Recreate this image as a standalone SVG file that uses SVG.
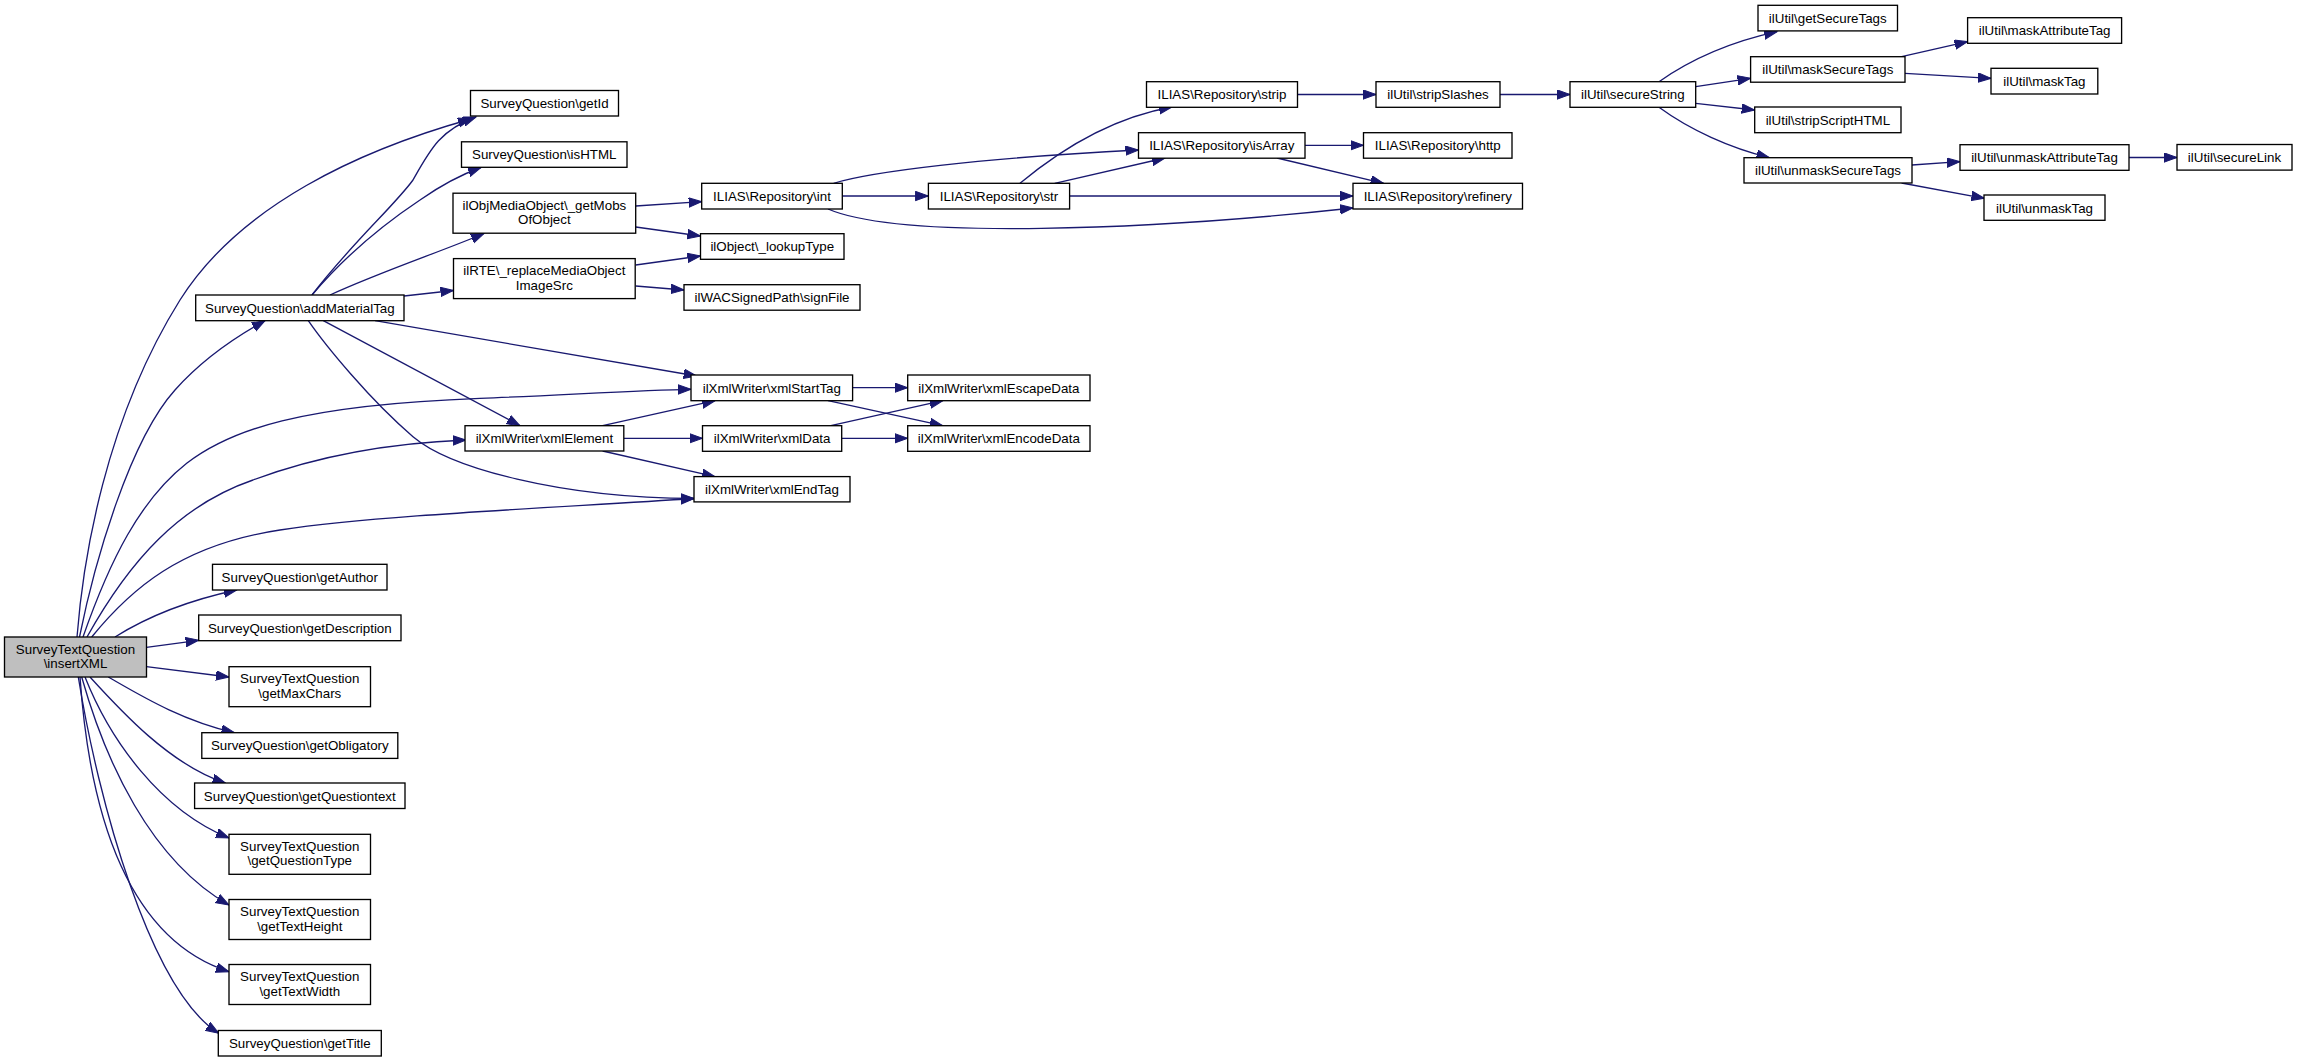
<svg xmlns="http://www.w3.org/2000/svg" width="2297" height="1063" viewBox="0 0 2297 1063">
<style>
.n rect{fill:#fff;stroke:#000;stroke-width:1.33}
.n.root rect{fill:#bfbfbf}
.n text{font-family:"Liberation Sans",Arial,Helvetica,sans-serif;font-size:13.33px;text-anchor:middle;fill:#000}
.e path{fill:none;stroke:#191970;stroke-width:1.33;marker-end:url(#a)}
</style>
<defs>
<marker id="a" markerUnits="userSpaceOnUse" markerWidth="15" markerHeight="12" refX="13" refY="5" orient="auto">
<path d="M0,0.3 L13,5 L0,9.7 Z" fill="#191970" stroke="#191970" stroke-width="1"/>
</marker>
</defs>
<rect width="2297" height="1063" fill="#fff"/>
<g id="connectors" class="e">
<path d="M77,637 C83,560 105,420 180,300 C240,205 360,150 471,119"/>
<path d="M79.5,637 C95,560 130,440 175,390 C200,362 230,340 265,320.7"/>
<path d="M83,637 C110,560 140,500 186.7,463.3 C230,430 300,405 480,398.3 C560,395.3 640,390 691,389.3"/>
<path d="M87,637 C130,560 180,505 253,480 C320,455 390,443 466,440"/>
<path d="M91.7,637 C130,590 180,545 280,530 C380,515 550,508 694,498.5"/>
<path d="M115,637 C150,615 190,600 236.7,590"/>
<path d="M146.4,647.3 L198.7,640.3"/>
<path d="M146.4,666.7 L229,677"/>
<path d="M108.3,677 C140,695 180,720 234.4,732.7"/>
<path d="M90,677 C120,710 170,765 225.4,783"/>
<path d="M85,677 C110,740 160,810 229,838"/>
<path d="M81.7,677 C105,760 150,860 229,905"/>
<path d="M80,677 C90,820 130,940 229,971.7"/>
<path d="M78.3,677 C98,800 150,990 218.7,1033.3"/>
<path d="M312,295 C350,245 395,205 413,180 C430,150 440,130 476,117"/>
<path d="M312,295 C350,250 390,220 420,200 C440,186 460,175 481,167.5"/>
<path d="M330,295 C380,272 440,252 484,233.5"/>
<path d="M404,296 L453.5,290.5"/>
<path d="M375,320.7 L696.7,376"/>
<path d="M323.3,320.7 L520,425.7"/>
<path d="M308.3,320.7 C325,345 370,400 413,436.7 C450,468 560,498 694,498.5"/>
<path d="M635.7,206 L701.7,201.7"/>
<path d="M635.7,227 L700.5,236"/>
<path d="M635.7,265 L700.5,256"/>
<path d="M635.7,286 L684,290"/>
<path d="M602.6,425.7 L715,400.7"/>
<path d="M624,438.3 L702.5,438.3"/>
<path d="M602.6,451 L715,476.7"/>
<path d="M852.6,387.7 L907.7,387.7"/>
<path d="M828,400.7 L942.7,425.7"/>
<path d="M830.8,425.7 L942.7,400.7"/>
<path d="M841.7,438.3 L907.7,438.3"/>
<path d="M842.3,196 L928.4,196"/>
<path d="M833.7,183.3 C870,172 980,158 1138.5,150"/>
<path d="M828,209 C900,240 1150,230 1353,208"/>
<path d="M1020,183.3 C1060,150 1110,118 1172,107"/>
<path d="M1054.7,183.3 L1165,158"/>
<path d="M1069.6,196 L1353,196"/>
<path d="M1305,145.3 L1363.5,145.3"/>
<path d="M1277,158 L1383.6,183.3"/>
<path d="M1297.5,94.5 L1376,94.5"/>
<path d="M1500,94.5 L1570,94.5"/>
<path d="M1659,81.7 C1690,60 1730,42 1777,31.7"/>
<path d="M1695.7,86.7 L1750.6,78.3"/>
<path d="M1695.7,103.3 L1754.7,110"/>
<path d="M1659,107.3 C1690,130 1730,148 1769.4,157.7"/>
<path d="M1901.6,56.7 L1967.6,41.7"/>
<path d="M1905,73.3 L1991,78.3"/>
<path d="M1912,165 L1960,161.7"/>
<path d="M1901.6,183 L1984.4,198.3"/>
<path d="M2129,157.5 L2177,157.5"/>
</g>
<g id="insertXML" class="n root"><rect x="4.5" y="637" width="142" height="40"/><text x="75.5" y="653.5">SurveyTextQuestion</text><text x="75.5" y="668">\insertXML</text></g>
<g id="getId" class="n"><rect x="470.5" y="90.5" width="148" height="25.5"/><text x="544.5" y="108">SurveyQuestion\getId</text></g>
<g id="isHTML" class="n"><rect x="461.5" y="141.8" width="165.5" height="25.5"/><text x="544.25" y="159.3">SurveyQuestion\isHTML</text></g>
<g id="getMobsOfObject" class="n"><rect x="453" y="193.2" width="182.7" height="40"/><text x="544.35" y="209.7">ilObjMediaObject\_getMobs</text><text x="544.35" y="224.2">OfObject</text></g>
<g id="replaceMediaObjectImageSrc" class="n"><rect x="453.5" y="258.6" width="181.7" height="40"/><text x="544.35" y="275.1">ilRTE\_replaceMediaObject</text><text x="544.35" y="289.6">ImageSrc</text></g>
<g id="addMaterialTag" class="n"><rect x="195.7" y="295" width="208.3" height="25.7"/><text x="299.85" y="312.5">SurveyQuestion\addMaterialTag</text></g>
<g id="xmlStartTag" class="n"><rect x="691" y="375" width="161.6" height="25.7"/><text x="771.8" y="392.5">ilXmlWriter\xmlStartTag</text></g>
<g id="xmlElement" class="n"><rect x="465" y="425.7" width="158.8" height="25.3"/><text x="544.4" y="443.2">ilXmlWriter\xmlElement</text></g>
<g id="xmlEndTag" class="n"><rect x="694" y="476.6" width="156" height="25.3"/><text x="772" y="494">ilXmlWriter\xmlEndTag</text></g>
<g id="getAuthor" class="n"><rect x="212.5" y="564.3" width="174.5" height="25.7"/><text x="299.75" y="581.8">SurveyQuestion\getAuthor</text></g>
<g id="getDescription" class="n"><rect x="198.7" y="615" width="202.3" height="25.7"/><text x="299.85" y="632.5">SurveyQuestion\getDescription</text></g>
<g id="getMaxChars" class="n"><rect x="229" y="666.7" width="141.5" height="40"/><text x="299.75" y="683.2">SurveyTextQuestion</text><text x="299.75" y="697.7">\getMaxChars</text></g>
<g id="getObligatory" class="n"><rect x="201.8" y="732.7" width="196" height="25.7"/><text x="299.8" y="750.2">SurveyQuestion\getObligatory</text></g>
<g id="getQuestiontext" class="n"><rect x="194.6" y="783" width="210.4" height="25.5"/><text x="299.8" y="800.5">SurveyQuestion\getQuestiontext</text></g>
<g id="getQuestionType" class="n"><rect x="229" y="834.3" width="141.5" height="40"/><text x="299.75" y="850.8">SurveyTextQuestion</text><text x="299.75" y="865.3">\getQuestionType</text></g>
<g id="getTextHeight" class="n"><rect x="229" y="899.5" width="141.5" height="40"/><text x="299.75" y="916">SurveyTextQuestion</text><text x="299.75" y="930.5">\getTextHeight</text></g>
<g id="getTextWidth" class="n"><rect x="229" y="964.5" width="141.5" height="40"/><text x="299.75" y="981">SurveyTextQuestion</text><text x="299.75" y="995.5">\getTextWidth</text></g>
<g id="getTitle" class="n"><rect x="218.3" y="1030.5" width="163" height="25.5"/><text x="299.8" y="1048">SurveyQuestion\getTitle</text></g>
<g id="int" class="n"><rect x="701.7" y="183.3" width="140.6" height="25.7"/><text x="772" y="200.8">ILIAS\Repository\int</text></g>
<g id="lookupType" class="n"><rect x="700.5" y="233.7" width="143.5" height="25.6"/><text x="772.25" y="251.2">ilObject\_lookupType</text></g>
<g id="signFile" class="n"><rect x="684" y="284.7" width="176" height="25.5"/><text x="772" y="302.2">ilWACSignedPath\signFile</text></g>
<g id="xmlEscapeData" class="n"><rect x="907.7" y="375" width="182.3" height="25.7"/><text x="998.85" y="392.5">ilXmlWriter\xmlEscapeData</text></g>
<g id="xmlData" class="n"><rect x="702.5" y="425.7" width="139.2" height="25.6"/><text x="772.1" y="443.2">ilXmlWriter\xmlData</text></g>
<g id="xmlEncodeData" class="n"><rect x="907.7" y="425.7" width="182.3" height="25.6"/><text x="998.85" y="443.2">ilXmlWriter\xmlEncodeData</text></g>
<g id="str" class="n"><rect x="928.4" y="183.3" width="141.2" height="25.7"/><text x="999" y="200.8">ILIAS\Repository\str</text></g>
<g id="strip" class="n"><rect x="1146.5" y="81.7" width="151" height="25.6"/><text x="1222" y="99.2">ILIAS\Repository\strip</text></g>
<g id="isArray" class="n"><rect x="1138.5" y="132.7" width="166.5" height="25.5"/><text x="1221.75" y="150.2">ILIAS\Repository\isArray</text></g>
<g id="http" class="n"><rect x="1363.5" y="132.7" width="148.5" height="25.5"/><text x="1437.75" y="150.2">ILIAS\Repository\http</text></g>
<g id="refinery" class="n"><rect x="1353" y="183.3" width="169.5" height="25.7"/><text x="1437.75" y="200.8">ILIAS\Repository\refinery</text></g>
<g id="stripSlashes" class="n"><rect x="1376" y="81.7" width="124" height="25.6"/><text x="1438" y="99.2">ilUtil\stripSlashes</text></g>
<g id="secureString" class="n"><rect x="1570" y="81.7" width="125.7" height="25.6"/><text x="1632.85" y="99.2">ilUtil\secureString</text></g>
<g id="getSecureTags" class="n"><rect x="1758" y="5.3" width="139.5" height="25.6"/><text x="1827.75" y="22.8">ilUtil\getSecureTags</text></g>
<g id="maskSecureTags" class="n"><rect x="1750.6" y="56.7" width="154.4" height="25.5"/><text x="1827.8" y="74.2">ilUtil\maskSecureTags</text></g>
<g id="stripScriptHTML" class="n"><rect x="1754.7" y="107" width="146.3" height="25.7"/><text x="1827.85" y="124.5">ilUtil\stripScriptHTML</text></g>
<g id="unmaskSecureTags" class="n"><rect x="1744" y="157.7" width="168" height="25.3"/><text x="1828" y="175.2">ilUtil\unmaskSecureTags</text></g>
<g id="maskAttributeTag" class="n"><rect x="1967.6" y="17.7" width="154" height="25.6"/><text x="2044.6" y="35.2">ilUtil\maskAttributeTag</text></g>
<g id="maskTag" class="n"><rect x="1991" y="68.3" width="106.8" height="25.7"/><text x="2044.4" y="85.8">ilUtil\maskTag</text></g>
<g id="unmaskAttributeTag" class="n"><rect x="1960" y="144.7" width="169" height="25.6"/><text x="2044.5" y="162.2">ilUtil\unmaskAttributeTag</text></g>
<g id="secureLink" class="n"><rect x="2177" y="144.5" width="115" height="25.6"/><text x="2234.5" y="162">ilUtil\secureLink</text></g>
<g id="unmaskTag" class="n"><rect x="1984" y="195" width="121" height="25.3"/><text x="2044.5" y="212.5">ilUtil\unmaskTag</text></g>
</svg>
